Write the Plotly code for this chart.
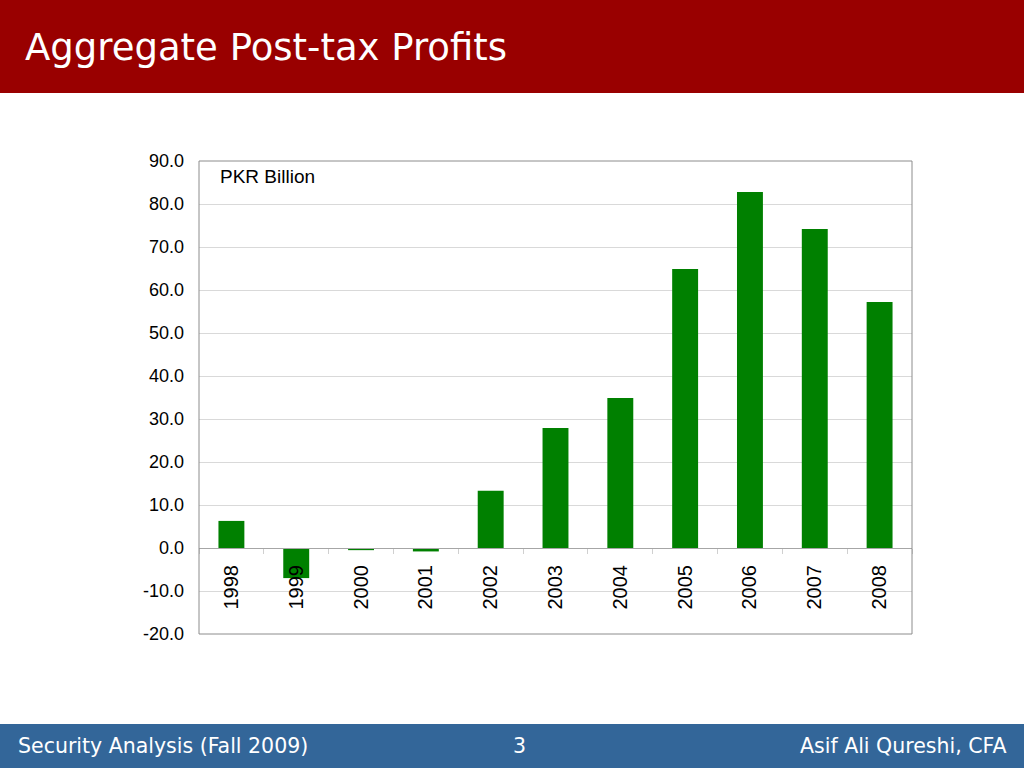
import plotly.graph_objects as go

years = ["1998", "1999", "2000", "2001", "2002", "2003", "2004", "2005", "2006", "2007", "2008"]
profits = [6.3, -7.0, -0.5, -0.8, 13.3, 27.9, 34.9, 64.9, 82.8, 74.2, 57.2]
y_ticks = [-20, -10, 0, 10, 20, 30, 40, 50, 60, 70, 80, 90]
y_tick_text = ["%.1f" % v for v in y_ticks]

title = "Aggregate Post-tax Profits"
unit_label = "PKR Billion"
footer_left = "Security Analysis (Fall 2009)"
footer_mid = "3"
footer_right = "Asif Ali Qureshi, CFA"

y_min, y_max = -20, 90

fig = go.Figure()
fig.add_trace(go.Bar(
    x=years,
    y=profits,
    marker=dict(color="#008000", line=dict(width=0)),
))

# category axis sits on the zero line
zero_pos = (0 - y_min) / (y_max - y_min)

fig.update_layout(
    width=1024,
    height=768,
    margin=dict(l=199, r=112, t=161, b=134),
    paper_bgcolor="white",
    plot_bgcolor="white",
    showlegend=False,
    bargap=0.6,
    font=dict(family="Liberation Sans, Arial", color="black"),
    xaxis=dict(
        anchor="free",
        position=zero_pos,
        showline=True,
        linecolor="#a6a6a6",
        linewidth=1,
        showgrid=False,
        ticks="outside",
        ticklen=5,
        tickcolor="#d0d0d0",
        tickson="boundaries",
        tickangle=-90,
        ticklabelstandoff=8,
        tickfont=dict(size=20),
        zeroline=False,
    ),
    yaxis=dict(
        range=[y_min, y_max],
        tickvals=y_ticks,
        ticktext=y_tick_text,
        tickfont=dict(size=18),
        ticklabelstandoff=14,
        showgrid=True,
        gridcolor="#d9d9d9",
        zeroline=False,
        showline=False,
        ticks="",
    ),
)

W, H = 713, 473
shapes = [
    # header band
    dict(type="rect", xref="paper", yref="paper", x0=-199/W, x1=1 + 112/W,
         y0=1 + 68/H, y1=1 + 161/H, fillcolor="#990000", line=dict(width=0), layer="below"),
    # footer band
    dict(type="rect", xref="paper", yref="paper", x0=-199/W, x1=1 + 112/W,
         y0=-134/H, y1=-90/H, fillcolor="#336699", line=dict(width=0), layer="below"),
    # plot frame
    dict(type="rect", xref="paper", yref="paper", x0=0, x1=1, y0=0, y1=1,
         line=dict(color="#8c8c8c", width=1)),
]
fig.update_layout(shapes=shapes)

fig.add_annotation(text=title, xref="paper", yref="paper", x=-176/W, y=1 + 113/H,
                   xanchor="left", yanchor="middle", showarrow=False,
                   font=dict(family="DejaVu Sans", size=37, color="white"))
fig.add_annotation(text=unit_label, xref="paper", yref="paper", x=19/W, y=1 - 15/H,
                   xanchor="left", yanchor="middle", showarrow=False,
                   font=dict(size=19))
fig.add_annotation(text=footer_left, xref="paper", yref="paper", x=-183/W, y=-112/H,
                   xanchor="left", yanchor="middle", showarrow=False,
                   font=dict(family="DejaVu Sans", size=20.5, color="white"))
fig.add_annotation(text=footer_mid, xref="paper", yref="paper", x=320/W, y=-112/H,
                   xanchor="center", yanchor="middle", showarrow=False,
                   font=dict(family="DejaVu Sans", size=20.5, color="white"))
fig.add_annotation(text=footer_right, xref="paper", yref="paper", x=1 + 96/W, y=-112/H,
                   xanchor="right", yanchor="middle", showarrow=False,
                   font=dict(family="DejaVu Sans", size=20.5, color="white"))

# page has a default body margin; remove it so the slide fills the window
fig.write_html("out.html", config={"displayModeBar": False},
               post_script="document.body.style.margin='0';")
